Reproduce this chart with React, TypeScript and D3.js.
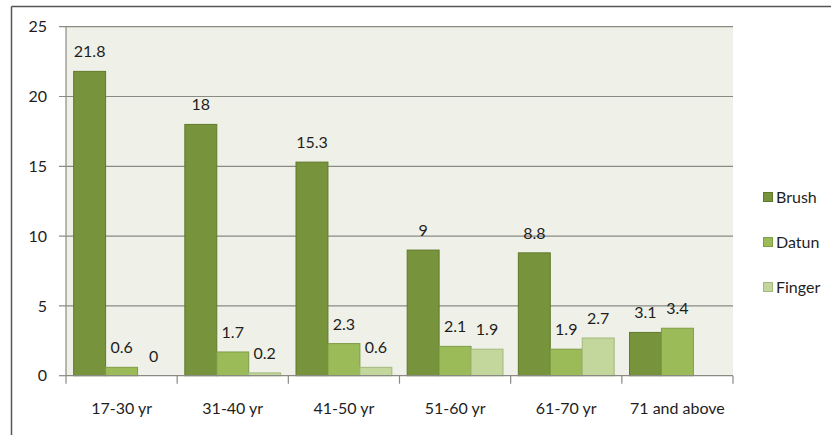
import React from "react";
import * as d3 from "d3";

const categories = ["17-30 yr", "31-40 yr", "41-50 yr", "51-60 yr", "61-70 yr", "71 and above"];
const seriesNames = ["Brush", "Datun", "Finger"];
const brush = [21.8, 18, 15.3, 9, 8.8, 3.1];
const datun = [0.6, 1.7, 2.3, 2.1, 1.9, 3.4];
const finger: (number | null)[] = [0, 0.2, 0.6, 1.9, 2.7, null];
const yTicks = [0, 5, 10, 15, 20, 25];

const fills = ["#77933c", "#9bbb59", "#c3d69b"];
const strokes = ["#5f7a2c", "#7f9c45", "#a2b87c"];
const FONT = "Lato, 'Open Sans', sans-serif";
const FS = 16;

export default function App() {
  const W = 831, H = 435;
  const plot = { left: 66, right: 733, top: 26.7, bottom: 375.7 };
  const x = d3.scaleBand<string>().domain(categories).range([plot.left, plot.right]).paddingInner(0).paddingOuter(0);
  const y = d3.scaleLinear().domain([0, 25]).range([plot.bottom, plot.top]);
  const inner = d3.scaleBand<string>().domain(seriesNames).range([0, x.bandwidth()]).paddingInner(0).paddingOuter(0.24);
  const allSeries = [brush, datun, finger];
  const bw = inner.bandwidth();

  return (
    <div style={{ position: "absolute", left: 0, top: 0, width: W, height: H }}>
      <svg width={W} height={H} style={{ display: "block", background: "#fff" }}>
        <line x1={11.5} x2={W} y1={6.5} y2={6.5} stroke="#555" strokeWidth={1.5} />
        <line x1={11.5} x2={11.5} y1={6.5} y2={H} stroke="#555" strokeWidth={1.5} />
        <rect x={plot.left} y={plot.top} width={plot.right - plot.left} height={plot.bottom - plot.top} fill="#eff1e9" />
        {yTicks.map((t) => (
          <g key={t}>
            <line x1={plot.left - 7} x2={t === 0 ? plot.left : plot.right} y1={y(t)} y2={y(t)} stroke="#8a8a84" strokeWidth={1.2} />
            <text x={47} y={y(t)} dy="0.35em" textAnchor="end" fontFamily={FONT} fontSize={FS} fill="#1e1e1e">{t}</text>
          </g>
        ))}
        {allSeries.map((vals, si) =>
          categories.map((c, ci) => {
            const v = vals[ci];
            if (v === null || v === undefined) return null;
            const x0 = (x(c) as number) + (inner(seriesNames[si]) as number);
            return (
              <g key={si + "-" + ci}>
                {v > 0 && (
                  <rect x={x0} y={y(v)} width={bw} height={y(0) - y(v)} fill={fills[si]} stroke={strokes[si]} strokeWidth={1} />
                )}
                <text x={x0 + bw / 2} y={y(v) - 14} textAnchor="middle" fontFamily={FONT} fontSize={FS} fill="#1e1e1e">{v}</text>
              </g>
            );
          })
        )}
        <line x1={plot.left} x2={plot.left} y1={plot.top} y2={plot.bottom} stroke="#8a8a84" strokeWidth={1.2} />
        <line x1={plot.left} x2={plot.right} y1={plot.bottom} y2={plot.bottom} stroke="#8a8a84" strokeWidth={1.2} />
        {categories.map((c, i) => (
          <line key={"t" + i} x1={(x(c) as number)} x2={(x(c) as number)} y1={plot.bottom} y2={plot.bottom + 8} stroke="#8a8a84" strokeWidth={1.2} />
        ))}
        <line x1={plot.right} x2={plot.right} y1={plot.bottom} y2={plot.bottom + 8} stroke="#8a8a84" strokeWidth={1.2} />
        {categories.map((c) => (
          <text key={c} x={(x(c) as number) + x.bandwidth() / 2} y={414} textAnchor="middle" fontFamily={FONT} fontSize={FS} fill="#1e1e1e">{c}</text>
        ))}
        {seriesNames.map((s, i) => (
          <g key={s} transform={`translate(763, ${197 + i * 45})`}>
            <rect x={0.5} y={-4.5} width={9} height={9} fill={fills[i]} stroke={strokes[i]} strokeWidth={1} />
            <text x={13} y={0} dy="0.35em" fontFamily={FONT} fontSize={FS} fill="#1e1e1e">{s}</text>
          </g>
        ))}
      </svg>
    </div>
  );
}
